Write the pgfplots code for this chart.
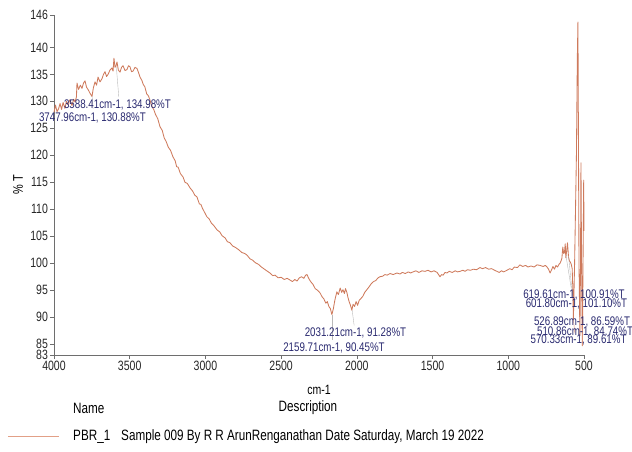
\documentclass[border=0pt]{standalone}
\usepackage{fontspec}
\setmainfont{Liberation Sans}[FakeStretch=0.78]
\usepackage{pgfplots}
\pgfplotsset{compat=1.18}
\usepackage{pgfplotstable}
\definecolor{spec}{RGB}{206,122,92}
\definecolor{speclight}{RGB}{226,160,135}
\definecolor{annot}{RGB}{42,42,112}
\definecolor{axisgray}{RGB}{110,110,110}
\pgfplotstableread{
x y
4000 128.0
3990 129.3
3980 128.1
3970 128.6
3960 129.6
3950 128.5
3940 129.8
3928 128.7
3918 130.0
3908 129.4
3895 130.3
3881 129.2
3870 130.4
3861 129.9
3852 130.8
3848 133.4
3838 132.2
3826 133.0
3815 132.4
3805 133.4
3795 133.8
3785 132.6
3775 132.2
3762 131.5
3749 130.9
3740 132.5
3729 133.6
3719 133.0
3709 134.5
3696 133.6
3683 134.2
3673 135.0
3663 135.5
3653 134.6
3643 135.0
3630 135.8
3617 136.2
3610 135.6
3604 138.0
3597 136.3
3591 136.5
3584 137.3
3575 135.8
3564 135.4
3554 136.3
3544 136.6
3531 135.7
3518 135.9
3508 136.6
3498 136.4
3488 135.5
3478 135.6
3465 136.3
3452 136.1
3440 135.2
3432 134.5
3420 133.9
3410 133.1
3400 132.7
3388 131.4
3376 131.0
3366 130.2
3352 129.0
3340 128.4
3330 127.6
3315 126.8
3300 125.3
3285 124.6
3272 123.2
3260 122.6
3245 121.5
3230 120.9
3214 119.7
3200 119.0
3190 117.9
3180 117.8
3165 116.6
3148 116.0
3135 115.0
3120 114.8
3100 113.9
3085 113.4
3070 112.6
3056 112.3
3040 111.0
3030 110.9
3020 110.2
3005 109.4
2990 108.6
2975 108.2
2960 107.4
2945 107.0
2924 106.2
2905 105.8
2890 105.1
2870 104.7
2855 104.0
2838 103.8
2820 103.2
2800 102.9
2780 102.5
2760 102.0
2740 101.8
2725 101.5
2705 100.8
2690 100.6
2670 100.1
2650 99.8
2630 99.3
2610 98.9
2590 98.5
2574 98.2
2555 97.7
2540 97.8
2520 97.3
2500 97.4
2480 97.0
2460 97.2
2442 96.9
2425 96.6
2410 97.0
2395 96.7
2380 97.3
2365 97.5
2350 97.2
2338 97.8
2329 97.9
2318 97.2
2305 96.6
2290 96.1
2275 95.3
2260 95.0
2243 94.5
2230 93.8
2218 93.4
2205 92.6
2195 92.9
2185 92.0
2175 91.6
2165 90.5
2155 91.6
2145 93.2
2132 94.7
2122 94.2
2110 95.4
2100 94.6
2092 95.1
2082 94.4
2075 95.3
2066 94.6
2059 93.7
2050 92.8
2042 92.2
2033 91.3
2025 92.4
2015 92.0
2005 92.9
1995 92.2
1985 93.1
1975 93.4
1960 93.9
1948 94.6
1934 95.1
1920 95.6
1905 96.2
1890 96.6
1875 96.8
1860 97.3
1848 97.5
1830 97.6
1815 97.9
1800 97.8
1780 98.1
1760 97.9
1735 98.2
1715 98.0
1700 98.3
1680 98.1
1660 98.4
1645 98.2
1629 98.4
1610 98.6
1590 98.3
1570 98.6
1550 98.5
1530 98.7
1510 98.4
1490 98.6
1470 98.3
1458 97.8
1451 97.5
1440 97.9
1430 97.8
1418 98.3
1405 98.2
1390 98.5
1370 98.3
1350 98.6
1335 98.4
1319 98.5
1300 98.7
1285 98.5
1270 98.8
1250 98.7
1230 98.9
1210 98.8
1187 99.2
1170 99.0
1150 99.2
1130 98.9
1110 99.0
1090 98.7
1075 98.5
1060 98.3
1045 98.6
1030 98.4
1009 98.7
990 99.0
975 98.8
960 99.3
940 99.2
923 99.7
905 99.4
885 99.6
870 99.3
850 99.5
830 99.3
810 99.7
790 99.6
770 99.4
755 99.6
744 99.3
734 98.9
724 98.2
714 98.8
705 99.4
695 98.9
685 99.6
675 99.3
665 99.8
658 100.0
652 100.4
646 100.9
640 103.0
634 101.8
629 102.0
624 103.6
620 101.0
614 102.4
609 103.8
602 101.1
596 100.4
590 100.2
584 99.8
578 99.0
574 95.5
570 89.6
562 100.0
550 120.0
544 138.0
540 144.7
537 125.0
533 100.0
527 86.6
523 100.0
520 118.6
516 100.0
511 84.7
507 98.0
502 115.4
500 106.0
}\spectrum
\begin{document}
\begin{tikzpicture}
\path[use as bounding box] (-54pt,-97pt) rectangle (578pt,355pt);
\begin{axis}[
  at={(0pt,0pt)}, anchor=south west,
  scale only axis, width=530pt, height=340pt,
  x dir=reverse,
  xmin=500, xmax=4000, ymin=83, ymax=146,
  axis x line=bottom, axis y line=left,
  axis line style={-, axisgray, line width=0.7pt},
  xtick={500,1000,...,4000},
  ytick={83,85,90,95,100,105,110,115,120,125,130,135,140,146},
  tick align=outside, major tick length=4pt,
  tick style={axisgray, line width=0.6pt},
  /pgf/number format/1000 sep={},
  /pgf/number format/assume math mode=true,
  ticklabel style={font=\fontsize{13.5}{14}\selectfont, text=black!85},
  xticklabel style={yshift=1pt},
  yticklabel style={xshift=1.5pt},
  clip=false,
]
\addplot[spec, line width=0.85pt, line join=round] table[x=x,y=y] {\spectrum};
% connector lines
\draw[gray!55, line width=0.4pt] (axis cs:3588,136.3) -- (axis cs:3572,130.8);
\draw[gray!55, line width=0.4pt] (axis cs:3748,130.9) -- (axis cs:3742,128.6);
\draw[gray!55, line width=0.4pt] (axis cs:2031,91.3) -- (axis cs:2018,88.5);
\draw[gray!55, line width=0.4pt] (axis cs:2160,90.5) -- (axis cs:2160,85.7);
\draw[gray!55, line width=0.4pt] (axis cs:619.6,101.5) -- (axis cs:585,95.5);
\draw[gray!55, line width=0.4pt] (axis cs:601.8,101.3) -- (axis cs:575,93.8);
\draw[speclight, line width=0.5pt] (axis cs:570.3,89.6) -- (axis cs:560,87.0);
\draw[speclight, line width=0.5pt] (axis cs:526.9,86.6) -- (axis cs:528,90.4);
\draw[speclight, line width=0.5pt] (axis cs:510.9,84.7) -- (axis cs:512,88.6);
% annotation labels
\begin{scope}[every node/.style={font=\fontsize{12.5}{13}\selectfont, text=annot, inner sep=0pt}]
\node at (axis cs:3581,129.4) {3588.41cm-1, 134.98\%T};
\node at (axis cs:3746,126.9) {3747.96cm-1, 130.88\%T};
\node at (axis cs:2009,87.1) {2031.21cm-1, 91.28\%T};
\node at (axis cs:2151,84.3) {2159.71cm-1, 90.45\%T};
\node at (axis cs:566,94.1) {619.61cm-1, 100.91\%T};
\node at (axis cs:550,92.4) {601.80cm-1, 101.10\%T};
\node at (axis cs:513,89.1) {526.89cm-1, 86.59\%T};
\node at (axis cs:493,87.3) {510.86cm-1, 84.74\%T};
\node at (axis cs:536,85.8) {570.33cm-1, 89.61\%T};
\end{scope}
\end{axis}
% axis titles
\node[font=\fontsize{13.5}{14}\selectfont] at (265pt,-35pt) {cm-1};
\node[font=\fontsize{14}{15}\selectfont, rotate=90] at (-36pt,170pt) {\% T};
% legend
\node[font=\fontsize{15}{16}\selectfont, anchor=west, inner sep=0pt] at (19pt,-53pt) {Name};
\node[font=\fontsize{15}{16}\selectfont, inner sep=0pt] at (254pt,-53pt) {Description};
\draw[speclight, line width=1pt] (-46pt,-82pt) -- (5pt,-82pt);
\node[font=\fontsize{15}{16}\selectfont, anchor=west, inner sep=0pt] at (19pt,-82pt) {PBR\_1};
\node[font=\fontsize{15}{16}\selectfont, anchor=west, inner sep=0pt] at (67pt,-82pt) {Sample 009 By R R ArunRenganathan Date Saturday, March 19 2022};
\end{tikzpicture}
\end{document}
